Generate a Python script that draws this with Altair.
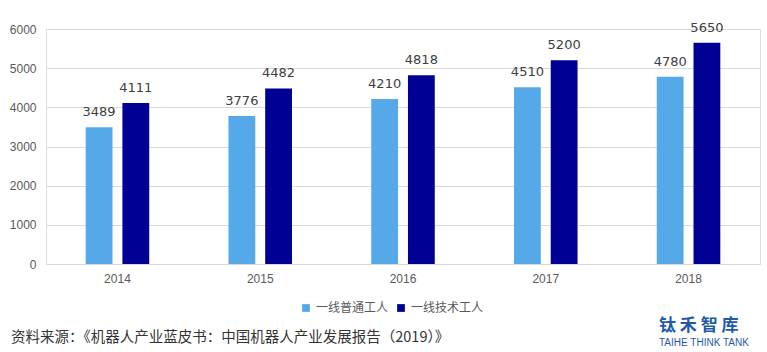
import altair as alt
import pandas as pd

years = ["2014", "2015", "2016", "2017", "2018"]
series = ["一线普通工人", "一线技术工人"]
ordinary = [3489, 3776, 4210, 4510, 4780]
skilled = [4111, 4482, 4818, 5200, 5650]
colors = ["#56A9E9", "#000095"]
source = "资料来源：《机器人产业蓝皮书：中国机器人产业发展报告（2019）》"
font = "Noto Sans CJK SC"
numfont = "Liberation Sans"

rows = []
for i, y in enumerate(years):
    rows.append({"year": y, "series": series[0], "value": ordinary[i]})
    rows.append({"year": y, "series": series[1], "value": skilled[i]})
df = pd.DataFrame(rows)

x = alt.X("year:N", title=None,
          scale=alt.Scale(paddingInner=0.555, paddingOuter=0.278),
          axis=alt.Axis(labelAngle=0, ticks=False, domain=True, domainColor="#d9d9d9",
                        labelColor="#595959", labelFontSize=12, labelPadding=9, labelFont=numfont))
xo = alt.XOffset("series:N", sort=series, scale=alt.Scale(paddingInner=0.27, paddingOuter=0))
y = alt.Y("value:Q", title=None,
          scale=alt.Scale(domain=[0, 6000]),
          axis=alt.Axis(values=[0, 1000, 2000, 3000, 4000, 5000, 6000], format="d", ticks=False, domain=False,
                        gridColor="#d9d9d9", labelColor="#595959", labelFontSize=12,
                        labelPadding=10, labelFont=numfont))

base = alt.Chart(df)
bars = base.mark_bar().encode(
    x=x, xOffset=xo, y=y,
    color=alt.Color("series:N", sort=series, title=None,
                    scale=alt.Scale(domain=series, range=colors),
                    legend=alt.Legend(orient="none", direction="horizontal", legendX=254, legendY=273,
                                      symbolType="square", symbolSize=60, labelFontSize=12,
                                      labelColor="#595959", labelFont=font, columnPadding=6,
                                      symbolOffset=0, labelOffset=4)),
)
labels = base.mark_text(dy=-8, baseline="bottom", fontSize=13, color="#404040", font="DejaVu Sans").encode(
    x=x, xOffset=xo, y=y, text=alt.Text("value:Q", format="d"))

notes = pd.DataFrame({"t": [source]})
src = alt.Chart(notes).mark_text(align="left", baseline="middle", fontSize=14.5, color="#333333", font=font).encode(
    x=alt.value(-35), y=alt.value(309), text="t:N")

logo1 = alt.Chart(pd.DataFrame({"t": ["钛 禾 智 库"]})).mark_text(
    align="left", baseline="middle", fontSize=17, color="#1F5AA6", font=font, fontWeight="bold").encode(
    x=alt.value(613), y=alt.value(297), text="t:N")
logo2 = alt.Chart(pd.DataFrame({"t": ["TAIHE THINK TANK"]})).mark_text(
    align="left", baseline="middle", fontSize=10, color="#1F5AA6", font="Liberation Sans").encode(
    x=alt.value(613), y=alt.value(314), text="t:N")

chart = alt.layer(bars, labels, src, logo1, logo2).properties(
    width=714, height=235,
    padding={"left": 46, "top": 29, "right": 7, "bottom": 88},
    autosize=alt.AutoSizeParams(type="none"),
).configure_view(stroke=None).configure(background="white")

chart.save("out.html", embed_options={"renderer": "svg", "actions": False})
